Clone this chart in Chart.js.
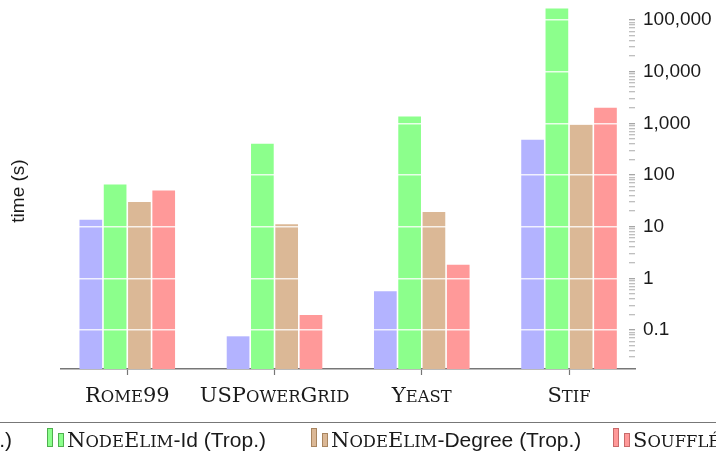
<!DOCTYPE html>
<html>
<head>
<meta charset="utf-8">
<script src="https://cdn.jsdelivr.net/npm/chart.js@4.4.0/dist/chart.umd.min.js"></script>
<style>
  body { margin: 0; background: #fff; }
  #wrap { position: relative; width: 716px; height: 454px; overflow: hidden; }
  #legendBox { position: absolute; top: 422px; left: -20px; width: 760px; height: 60px; border: 1px solid #777; }
  .item { position: absolute; top: 428px; height: 24px; line-height: 24px; white-space: nowrap;
          font-family: "Liberation Sans"; font-size: 21px; color: #1a1a1a; padding-left: 20px; }
  .item i { position: absolute; width: 6px; box-sizing: border-box; border: 1px solid; }
  .sc { font-family: "DejaVu Serif"; font-size: 21px; }
  .sc small { font-size: 16.4px; }
  .xlab { position: absolute; top: 383px; line-height: 24px; white-space: nowrap; transform: translateX(-50%);
          color: #1a1a1a; }
</style>
</head>
<body>
<div id="wrap">
  <canvas id="timeChart" width="716" height="454"></canvas>
  <div id="legendBox"></div>
  <div id="labels"></div>
</div>
<script>
// Chart data
const categories = ["Rome99", "USPowerGrid", "Yeast", "Stif"];
const seriesNames = ["Naive (Trop.)", "NodeElim-Id (Trop.)", "NodeElim-Degree (Trop.)", "Soufflé"];
const naiveTimes = [13.6, 0.0755, 0.56, 482];
const nodeElimIdTimes = [65.8, 403, 1360, 167000];
const nodeElimDegreeTimes = [29.9, 11.2, 19.2, 940];
const souffleTimes = [50.4, 0.195, 1.84, 2004];
const majorTicks = [0.1, 1, 10, 100, 1000, 10000, 100000];
const yTickLabels = ["0.1", "1", "10", "100", "1,000", "10,000", "100,000"];

const fills = ["#b3b3ff", "#8cff8c", "#dbb896", "#ff9999"];
const edges = ["#7f7fc8", "#4fb04f", "#a88560", "#c86a6a"];

function isMajor(v) {
    return majorTicks.some((m) => Math.abs(m - v) / m < 1e-6);
}

function toPoints(values) {
    return values.map((v, i) => ({ x: i, y: v }));
}

// small caps by hand: lower-case letters become smaller capitals
function smallCaps(text) {
    return '<span class="sc">' +
        text.replace(/[a-zà-ÿ]+/g, (m) => "<small>" + m.toUpperCase() + "</small>") +
        "</span>";
}

const ctx = document.getElementById("timeChart").getContext("2d");

// "time (s)" on the left side
const yTitle = {
    id: "yTitle",
    afterDraw(chart) {
        const c = chart.ctx;
        c.save();
        c.translate(23.5, 191);
        c.rotate(-Math.PI / 2);
        c.font = "19px 'Liberation Sans'";
        c.fillStyle = "#1a1a1a";
        c.textAlign = "center";
        c.textBaseline = "alphabetic";
        c.fillText("time (s)", 0, 0);
        c.restore();
    },
};

const timeChart = new Chart(ctx, {
    type: "bar",
    data: {
        datasets: [naiveTimes, nodeElimIdTimes, nodeElimDegreeTimes, souffleTimes].map((vals, k) => ({
            label: seriesNames[k],
            data: toPoints(vals),
            backgroundColor: fills[k],
            borderWidth: 0,
        })),
    },
    options: {
        responsive: false,
        animation: false,
        devicePixelRatio: 1,
        categoryPercentage: 0.66,
        barPercentage: 0.934,
        layout: { padding: { top: 8, left: 61, right: 0, bottom: 0 } },
        plugins: {
            legend: { display: false },
            tooltip: { enabled: false },
        },
        scales: {
            x: {
                type: "linear",
                offset: false,
                min: -0.45,
                max: 3.448,
                afterBuildTicks: (s) => {
                    s.ticks = categories.map((_, i) => ({ value: i }));
                },
                afterFit: (s) => {
                    s.height = 85;
                    s.paddingLeft = 0;
                    s.paddingRight = 0;
                },
                ticks: {
                    autoSkip: false,
                    maxRotation: 0,
                    callback: () => "",
                },
                grid: { offset: false, drawOnChartArea: false, drawTicks: true, tickLength: 6, tickColor: "#777", tickWidth: 1.2 },
                border: { color: "#777", width: 1.6 },
            },
            y: {
                type: "logarithmic",
                position: "right",
                min: 0.0176,
                max: 170600,
                afterBuildTicks: (s) => {
                    s.ticks = s.ticks.filter((t) => {
                        const r = t.value / Math.pow(10, Math.floor(Math.log10(t.value) + 1e-9));
                        return Math.abs(r - Math.round(r)) < 1e-6;
                    });
                },
                afterFit: (s) => {
                    s.width = 81;
                    s.paddingTop = 0;
                    s.paddingBottom = 0;
                },
                ticks: {
                    autoSkip: false,
                    padding: 14,
                    color: "#1a1a1a",
                    font: { family: "'Liberation Sans'", size: 19 },
                    callback: (v) => {
                        const i = majorTicks.findIndex((m) => Math.abs(m - v) / m < 1e-6);
                        return i >= 0 ? yTickLabels[i] : "";
                    },
                },
                grid: {
                    z: 1,
                    color: (c) => (c.tick && isMajor(c.tick.value) ? "rgba(255,255,255,0.8)" : "rgba(0,0,0,0)"),
                    lineWidth: 1.5,
                    tickLength: -6,
                    tickWidth: 1,
                    tickColor: (c) => (c.tick && isMajor(c.tick.value) ? "#888" : "#aaa"),
                },
                border: { display: false },
            },
        },
    },
    plugins: [yTitle],
});

const labelsEl = document.getElementById("labels");

// Category names under the axis, placed with the x scale
categories.forEach((name, i) => {
    const lab = document.createElement("div");
    lab.className = "xlab";
    lab.style.left = timeChart.scales.x.getPixelForValue(i) + "px";
    lab.innerHTML = smallCaps(name);
    labelsEl.appendChild(lab);
});

// Legend below the plot (it runs past both edges of the picture)
const legendLefts = [null, 47, 311, 613];
seriesNames.forEach((name, k) => {
    const item = document.createElement("div");
    item.className = "item";
    if (legendLefts[k] === null) {
        item.style.right = (716 - 12) + "px";
    } else {
        item.style.left = legendLefts[k] + "px";
    }
    const html = name.replace(/NodeElim|Soufflé|Naive/, (m) => smallCaps(m));
    item.innerHTML =
        `<i style="left:0;top:0;height:19px;background:${fills[k]};border-color:${edges[k]}"></i>` +
        `<i style="left:11px;top:5px;height:14px;background:${fills[k]};border-color:${edges[k]}"></i>` +
        html;
    labelsEl.appendChild(item);
});
</script>
</body>
</html>
